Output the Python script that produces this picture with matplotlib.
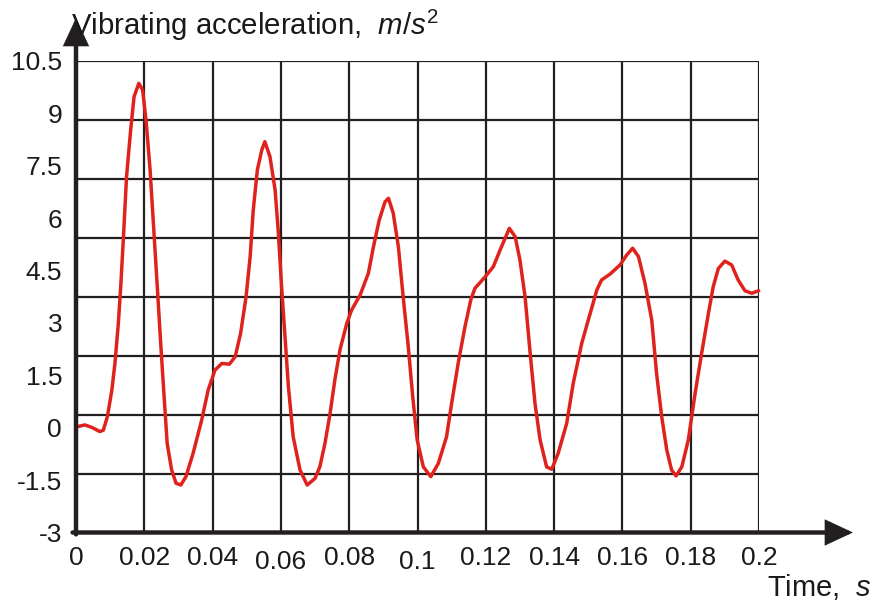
"""Vibrating acceleration vs time - hand-drawn style grid chart."""

import matplotlib
matplotlib.use("Agg")
import matplotlib.pyplot as plt
import matplotlib.transforms as mtransforms
import numpy as np

plt.rcParams["font.family"] = ["Liberation Sans", "DejaVu Sans"]
plt.rcParams["mathtext.fontset"] = "custom"
plt.rcParams["mathtext.rm"] = "Liberation Sans"
plt.rcParams["mathtext.it"] = "Liberation Sans:italic"

# time (s) and acceleration (m/s^2)
time_s = [
    0.0004, 0.0026, 0.0046, 0.0070, 0.0080, 0.0092, 0.0105, 0.0114, 0.0124, 0.0131,
    0.0139, 0.0148, 0.0160, 0.0170, 0.0184, 0.0195, 0.0205, 0.0217, 0.0226, 0.0238,
    0.0248, 0.0258, 0.0267, 0.0280, 0.0293, 0.0307, 0.0322, 0.0343, 0.0368, 0.0387,
    0.0407, 0.0427, 0.0449, 0.0466, 0.0482, 0.0498, 0.0510, 0.0519, 0.0531, 0.0544,
    0.0553, 0.0568, 0.0583, 0.0592, 0.0602, 0.0612, 0.0622, 0.0636, 0.0656, 0.0677,
    0.0700, 0.0714, 0.0729, 0.0744, 0.0758, 0.0773, 0.0793, 0.0807, 0.0832, 0.0856,
    0.0871, 0.0888, 0.0905, 0.0915, 0.0929, 0.0944, 0.0958, 0.0973, 0.0986, 0.0999,
    0.1017, 0.1039, 0.1061, 0.1085, 0.1100, 0.1119, 0.1139, 0.1156, 0.1168, 0.1198,
    0.1222, 0.1242, 0.1269, 0.1286, 0.1300, 0.1315, 0.1329, 0.1344, 0.1359, 0.1378,
    0.1393, 0.1412, 0.1437, 0.1456, 0.1481, 0.1500, 0.1517, 0.1525, 0.1539, 0.1564,
    0.1593, 0.1613, 0.1630, 0.1647, 0.1666, 0.1686, 0.1700, 0.1715, 0.1730, 0.1744,
    0.1757, 0.1774, 0.1793, 0.1813, 0.1832, 0.1852, 0.1866, 0.1881, 0.1900, 0.1920,
    0.1939, 0.1959, 0.1979, 0.1998,
]
accel = [
    0.03, 0.08, 0.01, -0.11, -0.07, 0.32, 1.08, 1.84, 2.99, 4.04,
    5.47, 7.19, 8.52, 9.48, 9.86, 9.67, 8.81, 7.38, 5.95, 4.04,
    2.42, 0.89, -0.45, -1.21, -1.59, -1.64, -1.40, -0.73, 0.22, 1.08,
    1.65, 1.84, 1.82, 2.03, 2.70, 3.75, 4.90, 6.23, 7.38, 7.95,
    8.19, 7.76, 6.81, 5.66, 4.04, 2.61, 1.17, -0.26, -1.21, -1.64,
    -1.45, -1.12, -0.45, 0.41, 1.37, 2.23, 2.99, 3.37, 3.80, 4.42,
    5.18, 5.95, 6.47, 6.57, 6.14, 5.18, 3.75, 2.32, 0.89, -0.35,
    -1.12, -1.40, -1.02, -0.26, 0.70, 1.84, 2.89, 3.66, 3.99, 4.32,
    4.61, 5.09, 5.71, 5.47, 4.80, 3.75, 2.23, 0.70, -0.35, -1.12,
    -1.19, -0.73, 0.13, 1.27, 2.42, 3.08, 3.66, 3.94, 4.23, 4.40,
    4.66, 4.95, 5.14, 4.90, 4.14, 3.08, 1.56, 0.32, -0.64, -1.21,
    -1.38, -1.12, -0.35, 0.99, 2.13, 3.28, 4.04, 4.56, 4.77, 4.66,
    4.23, 3.92, 3.85, 3.92,
]

X_TICKS = [0, 0.02, 0.04, 0.06, 0.08, 0.1, 0.12, 0.14, 0.16, 0.18, 0.2]
X_LABELS = ["0", "0.02", "0.04", "0.06", "0.08", "0.1", "0.12", "0.14", "0.16", "0.18", "0.2"]
Y_TICKS = [-3, -1.5, 0, 1.5, 3, 4.5, 6, 7.5, 9, 10.5]
Y_LABELS = ["-3", "-1.5", "0", "1.5", "3", "4.5", "6", "7.5", "9", "10.5"]
# the drawn grid has 8 rows, not matching the 1.5 label step
N_GRID_ROWS = 8

INK = "#231f20"
RED = "#e0221d"

fig = plt.figure(figsize=(8.76, 6.05), dpi=100)
ax = fig.add_axes([76 / 876, 72.5 / 605, 683 / 876, 471.5 / 605])
ax.set_xlim(0, 0.2)
ax.set_ylim(-3, 10.5)
for s in ax.spines.values():
    s.set_visible(False)

# grid
for gx in X_TICKS[1:]:
    ax.plot([gx, gx], [-3, 10.5], color=INK, lw=1.6, zorder=1, solid_capstyle="butt")
for gy in np.linspace(-3, 10.5, N_GRID_ROWS + 1)[1:]:
    ax.plot([0, 0.2], [gy, gy], color=INK, lw=1.6, zorder=1, solid_capstyle="butt")

ax.plot(time_s, accel, color=RED, lw=2.5, zorder=3, solid_joinstyle="round", clip_on=False)

# axes with arrows
arrow = dict(arrowstyle="-|>,head_length=0.75,head_width=0.35", lw=3.2, color=INK,
             mutation_scale=20, shrinkA=0, shrinkB=0, joinstyle="miter")
ax.annotate("", xy=(1.1376, 0), xytext=(-0.005, 0), xycoords="axes fraction",
            arrowprops=arrow, zorder=5)
ax.annotate("", xy=(0, 1.0912), xytext=(0, -0.004), xycoords="axes fraction",
            arrowprops=arrow, zorder=5)

ax.set_xticks(X_TICKS)
ax.set_xticklabels(X_LABELS)
ax.set_yticks(Y_TICKS)
ax.set_yticklabels(Y_LABELS)
ax.tick_params(length=0, labelsize=19, colors="#1a1a1a")
ax.tick_params(axis="x", pad=10)
ax.tick_params(axis="y", pad=10)

# a couple of x labels sit a little lower in the original
shift = mtransforms.ScaledTranslation(0, -4 / 100, fig.dpi_scale_trans)
for lbl in ax.get_xticklabels():
    if lbl.get_text() in ("0.06", "0.1"):
        lbl.set_transform(lbl.get_transform() + shift)

fig.text(71 / 876, 1 - 35 / 605, r"Vibrating acceleration,  $m/s^2$", fontsize=21.2,
         ha="left", va="baseline", color="#1a1a1a")
fig.text(767 / 876, 1 - 596 / 605, r"Time,  $s$", fontsize=21,
         ha="left", va="baseline", color="#1a1a1a")

fig.savefig("out.png", dpi=100)
